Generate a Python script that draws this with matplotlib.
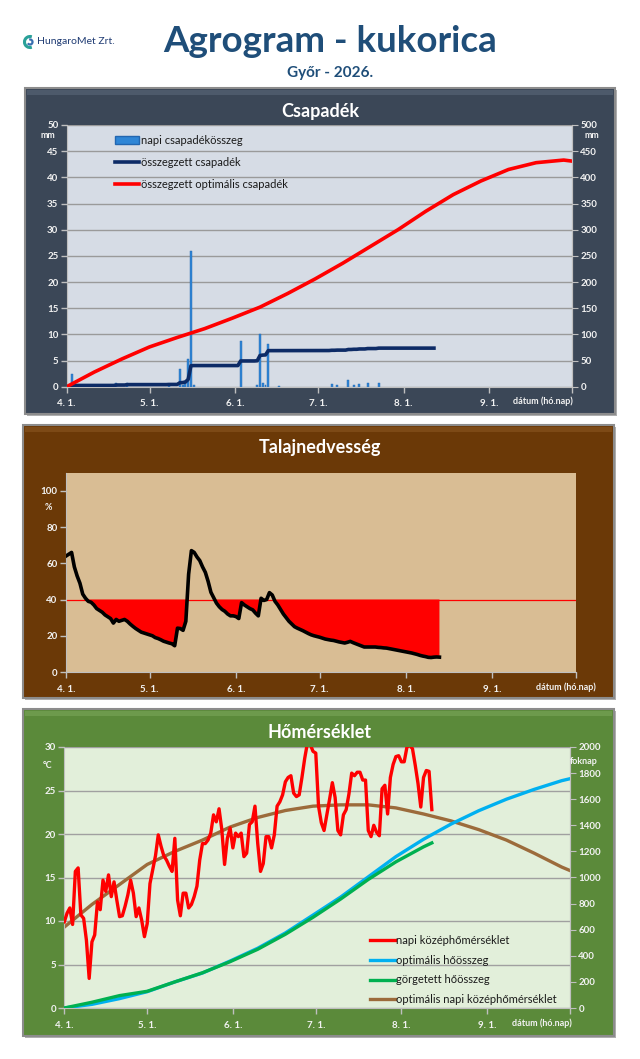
import matplotlib.pyplot as plt
import numpy as np
from matplotlib.patches import Rectangle, Patch, Arc
from matplotlib.lines import Line2D

plt.rcParams['font.family'] = ['Lato', 'DejaVu Sans']

# ---- data (day 0 = 4.1.) ----
month_days = [0, 30, 61, 91, 122, 153, 183]
month_labels = ['4. 1.', '5. 1.', '6. 1.', '7. 1.', '8. 1.', '9. 1.', '']

rain_days = [2, 18, 22, 37, 41, 42, 43, 44, 45, 46, 63, 69, 70, 71, 72, 73, 77,
             96, 98, 102, 104, 106, 109, 113]
rain_mm = [2.4, 0.8, 0.8, 0.3, 3.3, 0.3, 1.0, 5.2, 26.0, 0.3, 8.8, 0.4, 10.0, 0.8,
           0.3, 8.2, 0.2, 0.5, 0.3, 1.2, 0.4, 0.6, 0.8, 0.8]
n_obs = 134

opt_rain_days = [0, 10, 20, 30, 40, 50, 60, 70, 80, 90, 100, 110, 120, 130, 140,
                 150, 160, 170, 180, 183]
opt_rain_mm = [0, 28, 53, 76, 94, 111, 131, 152, 178, 206, 236, 268, 300, 335, 367,
               393, 415, 428, 433, 431]

soil = [64, 65, 66, 58, 53, 49, 43, 40.7, 39, 38.5, 37, 35, 34, 33, 31.5, 30.5, 29.5,
        27, 29, 28, 28.5, 29, 28, 26.5, 25.2, 24, 23, 22, 21.5, 21, 20.5, 20, 19, 18.5,
        17.8, 17, 16.5, 16, 15.6, 14.5, 24.2, 24, 23, 28, 54, 67, 66, 63.5, 61.5, 58, 55,
        50, 44, 41, 38, 36, 34.5, 33.5, 32, 31, 31, 30.6, 29.5, 38.3, 37, 36, 35, 34.3,
        32.5, 31, 40.7, 39.5, 40, 43.8, 42.5, 39, 37, 34.5, 32, 30, 28, 26.5, 25, 24.2,
        23.5, 22.8, 22, 21.2, 20.5, 20, 19.6, 19.2, 18.7, 18.2, 17.9, 17.6, 17.4, 17,
        16.6, 16.3, 16, 16.4, 16.9, 16.2, 15.6, 15, 14.4, 13.8, 13.8, 13.8, 13.8, 13.8,
        13.6, 13.5, 13.3, 13.2, 12.9, 12.6, 12.3, 12, 11.7, 11.4, 11.1, 10.8, 10.5, 10.1,
        9.7, 9.2, 8.8, 8.5, 8.1, 8, 8.2, 8.3, 8.2]
soil_limit = 40

temp = [9.9, 10.9, 11.5, 9.6, 15.7, 16.1, 10.7, 10.3, 7.8, 3.4, 7.6, 8.4, 12.2, 11.3,
        14.7, 13.4, 15.3, 12.8, 14.5, 12.4, 10.5, 10.6, 11.7, 13.0, 14.7, 13.2, 10.5,
        11.5, 10.1, 8.2, 9.7, 14.3, 15.9, 17.5, 19.9, 18.6, 17.5, 17.0, 16.3, 15.7, 19.5,
        12.4, 10.6, 13.2, 13.2, 11.5, 11.9, 12.8, 14.0, 17.0, 18.9, 18.9, 19.3, 20.1,
        22.2, 21.4, 22.9, 20.5, 16.5, 19.5, 20.7, 18.4, 20.1, 19.7, 20.1, 17.4, 17.8,
        21.1, 21.4, 23.2, 18.9, 15.7, 16.6, 19.7, 19.7, 18.4, 19.9, 23.2, 23.7, 24.5,
        26.0, 26.5, 26.7, 24.7, 24.3, 24.5, 26.5, 28.7, 30.5, 30.3, 29.5, 29.3, 23.2,
        21.3, 20.4, 22.2, 24.0, 25.9, 24.2, 20.4, 19.9, 22.2, 22.8, 24.6, 27.0, 26.7,
        27.1, 27.1, 26.2, 26.2, 20.4, 19.7, 21.0, 20.2, 19.8, 25.2, 25.6, 22.3, 26.5,
        28.0, 28.9, 29.0, 28.3, 28.3, 30.0, 30.2, 29.8, 27.9, 25.8, 23.1, 26.5, 27.3,
        27.2, 22.8]

opt_days = [0, 10, 20, 30, 40, 50, 60, 70, 80, 90, 100, 110, 120, 130, 140, 150, 160,
            170, 180, 183]
opt_temp = [9.3, 11.9, 14.2, 16.5, 18.0, 19.3, 20.8, 21.9, 22.7, 23.2, 23.35, 23.35,
            23.0, 22.3, 21.5, 20.5, 19.3, 17.8, 16.2, 15.8]
opt_gdd = [0, 28, 72, 125, 200, 268, 360, 458, 575, 712, 850, 1005, 1160, 1293, 1410,
           1512, 1600, 1675, 1742, 1757]
gdd_days = [0, 10, 20, 30, 40, 50, 60, 70, 80, 90, 100, 110, 120, 130, 133]
gdd = [0, 44, 95, 128, 200, 270, 355, 450, 565, 695, 835, 985, 1120, 1235, 1265]

# ---- figure ----
W, H = 640, 1059
fig = plt.figure(figsize=(6.4, 10.59), dpi=100)


def box(x0, y0, x1, y1):
    return [x0 / W, 1 - y1 / H, (x1 - x0) / W, (y1 - y0) / H]


def ftext(x, y, s, **kw):
    fig.text(x / W, 1 - y / H, s, **kw)


def panel(x0, y0, x1, y1, color, top):
    fig.patches.append(Rectangle((x0 / W + 0.003, 1 - y1 / H - 0.002), (x1 - x0) / W,
                                 (y1 - y0) / H, transform=fig.transFigure,
                                 facecolor='#b0b0b0', edgecolor='none', zorder=-10))
    fig.patches.append(Rectangle((x0 / W, 1 - y1 / H), (x1 - x0) / W, (y1 - y0) / H,
                                 transform=fig.transFigure, facecolor=color,
                                 edgecolor='#8c8c8c', linewidth=1.5, zorder=-9))
    # lighter band along the top edge
    fig.patches.append(Rectangle(((x0 + 2) / W, 1 - (y0 + 7) / H), (x1 - x0 - 4) / W,
                                 5 / H, transform=fig.transFigure, facecolor=top,
                                 edgecolor='none', zorder=-8))


def style(ax, bg):
    ax.set_facecolor(bg)
    ax.spines['top'].set_visible(False)
    for s in ['left', 'right', 'bottom']:
        ax.spines[s].set_color('#bfbfbf')
    ax.tick_params(colors='#bfbfbf', labelcolor='#f2f2f2', labelsize=7, length=4,
                   width=1, pad=2)
    ax.set_xlim(0, 183)
    ax.set_xticks(month_days)
    ax.set_xticklabels(month_labels, fontweight='bold')
    ax.tick_params(axis='x', pad=5)
    for t in ax.get_yticklabels():
        t.set_fontweight('bold')


def style_right(ax):
    ax.spines['top'].set_visible(False)
    ax.spines['left'].set_visible(False)
    ax.spines['bottom'].set_visible(False)
    ax.spines['right'].set_color('#bfbfbf')
    ax.tick_params(colors='#bfbfbf', labelcolor='#f2f2f2', labelsize=7, length=4, pad=2)
    for t in ax.get_yticklabels():
        t.set_fontweight('bold')


# header
ftext(330, 41, 'Agrogram - kukorica', fontsize=26.5, fontweight='bold',
      color='#1f4e79', ha='center', va='center')
ftext(330, 73, 'Győr - 2026.', fontsize=11, fontweight='bold', color='#1f4e79',
      ha='center', va='center')
ftext(37, 42, 'HungaroMet Zrt.', fontsize=7.5, color='#1f3b73', ha='left', va='center')
fig.patches.append(Arc((30 / W, 1 - 42 / H), 11 / W, 11 / H, theta1=60, theta2=300,
                       transform=fig.transFigure, color='#2aa198', linewidth=2.2))
fig.patches.append(Arc((30 / W, 1 - 42 / H), 5 / W, 5 / H, theta1=200, theta2=480,
                       transform=fig.transFigure, color='#3a6fb0', linewidth=1.6))

# ---- panel 1: Csapadék ----
panel(25, 88, 615, 414, '#3b4757', '#4d5a6b')
ftext(320, 112, 'Csapadék', fontsize=13, fontweight='bold', color='white',
      ha='center', va='center')
ax1 = fig.add_axes(box(66.7, 125, 572, 386.7))
ax1.set_ylim(0, 50)
ax1.set_yticks(range(0, 51, 5))
style(ax1, '#d6dce5')
ax1.grid(axis='y', color='#9a9a9a', linewidth=1)
ax1.set_axisbelow(True)
ax1.bar(rain_days, rain_mm, width=0.7, color='#2f86d6', edgecolor='#2266b0',
        linewidth=0.3, zorder=2)
ax1r = ax1.twinx()
ax1r.set_ylim(0, 500)
ax1r.set_yticks(range(0, 501, 50))
style_right(ax1r)
daily = np.zeros(n_obs)
daily[rain_days] = rain_mm
ax1r.plot(np.arange(n_obs), np.cumsum(daily), color='#0d2b66', linewidth=2.6)
ax1r.plot(opt_rain_days, opt_rain_mm, color='#ff0000', linewidth=2.6)
ax1r.set_xlim(0, 183)
h1 = [Patch(facecolor='#2f86d6', edgecolor='#2266b0'),
      Line2D([], [], color='#0d2b66', linewidth=2.6),
      Line2D([], [], color='#ff0000', linewidth=2.6)]
ax1r.legend(h1, ['napi csapadékösszeg', 'összegzett csapadék',
                 'összegzett optimális csapadék'], loc='upper left',
            bbox_to_anchor=(0.075, 1.0), frameon=False, fontsize=8, labelspacing=1.0,
            handlelength=2.2, handletextpad=0.15, labelcolor='#1a1a1a')
ftext(48, 136, 'mm', fontsize=6.5, fontweight='bold', color='#f2f2f2', ha='center',
      va='center')
ftext(592, 136, 'mm', fontsize=6.5, fontweight='bold', color='#f2f2f2', ha='center',
      va='center')
ftext(543, 401, 'dátum (hó.nap)', fontsize=6.5, fontweight='bold', color='#f2f2f2',
      ha='center', va='center')

# ---- panel 2: Talajnedvesség ----
panel(23, 425, 614, 698, '#6b3907', '#7d4a16')
ftext(320, 447, 'Talajnedvesség', fontsize=13, fontweight='bold', color='white',
      ha='center', va='center')
ax2 = fig.add_axes(box(66, 472.7, 576, 672))
ax2.set_ylim(0, 110)
ax2.set_yticks(range(0, 101, 20))
style(ax2, '#d9bd94')
ax2.spines['right'].set_visible(False)
sd = np.arange(len(soil))
sv = np.array(soil)
ax2.fill_between(sd, sv, soil_limit, where=sv < soil_limit, interpolate=True,
                 color='#ff0000', linewidth=0, zorder=2)
ax2.axhline(soil_limit, color='#ff0000', linewidth=0.9, zorder=2)
ax2.plot(sd, sv, color='black', linewidth=2.6, zorder=3)
ftext(48, 508, '%', fontsize=6.5, fontweight='bold', color='#f2f2f2', ha='center',
      va='center')
ftext(566, 687, 'dátum (hó.nap)', fontsize=6.5, fontweight='bold', color='#f2f2f2',
      ha='center', va='center')

# ---- panel 3: Hőmérséklet ----
panel(23, 709, 614, 1036, '#5b8a3a', '#6d9a4c')
ftext(320, 733, 'Hőmérséklet', fontsize=13, fontweight='bold', color='white',
      ha='center', va='center')
ax3 = fig.add_axes(box(64.3, 747, 570, 1008))
ax3.set_ylim(0, 30)
ax3.set_yticks(range(0, 31, 5))
style(ax3, '#e2efda')
ax3.grid(axis='y', color='#a0a0a0', linewidth=1)
ax3.set_axisbelow(True)
ax3.plot(opt_days, opt_temp, color='#9c6b3b', linewidth=2.4, zorder=2)
ax3.plot(np.arange(len(temp)), temp, color='#ff0000', linewidth=2.4, zorder=3)
ax3r = ax3.twinx()
ax3r.set_ylim(0, 2000)
ax3r.set_yticks(range(0, 2001, 200))
style_right(ax3r)
ax3r.plot(opt_days, opt_gdd, color='#00b0f0', linewidth=2.4)
ax3r.plot(gdd_days, gdd, color='#00b050', linewidth=2.4)
ax3r.set_xlim(0, 183)
h3 = [Line2D([], [], color='#ff0000', linewidth=2.4),
      Line2D([], [], color='#00b0f0', linewidth=2.4),
      Line2D([], [], color='#00b050', linewidth=2.4),
      Line2D([], [], color='#9c6b3b', linewidth=2.4)]
ax3r.legend(h3, ['napi középhőmérséklet', 'optimális hőösszeg', 'görgetett hőösszeg',
                 'optimális napi középhőmérséklet'], loc='lower left',
            bbox_to_anchor=(0.585, -0.028), frameon=False, fontsize=8, labelspacing=0.8,
            handlelength=2.2, handletextpad=0.15, labelcolor='#1a1a1a')
ftext(48, 765, '°C', fontsize=6.5, fontweight='bold', color='#f2f2f2', ha='center',
      va='center')
ftext(584, 762, 'foknap', fontsize=6.5, fontweight='bold', color='#f2f2f2',
      ha='center', va='center')
ftext(542, 1023, 'dátum (hó.nap)', fontsize=6.5, fontweight='bold', color='#f2f2f2',
      ha='center', va='center')

fig.savefig('out.png', dpi=100)
